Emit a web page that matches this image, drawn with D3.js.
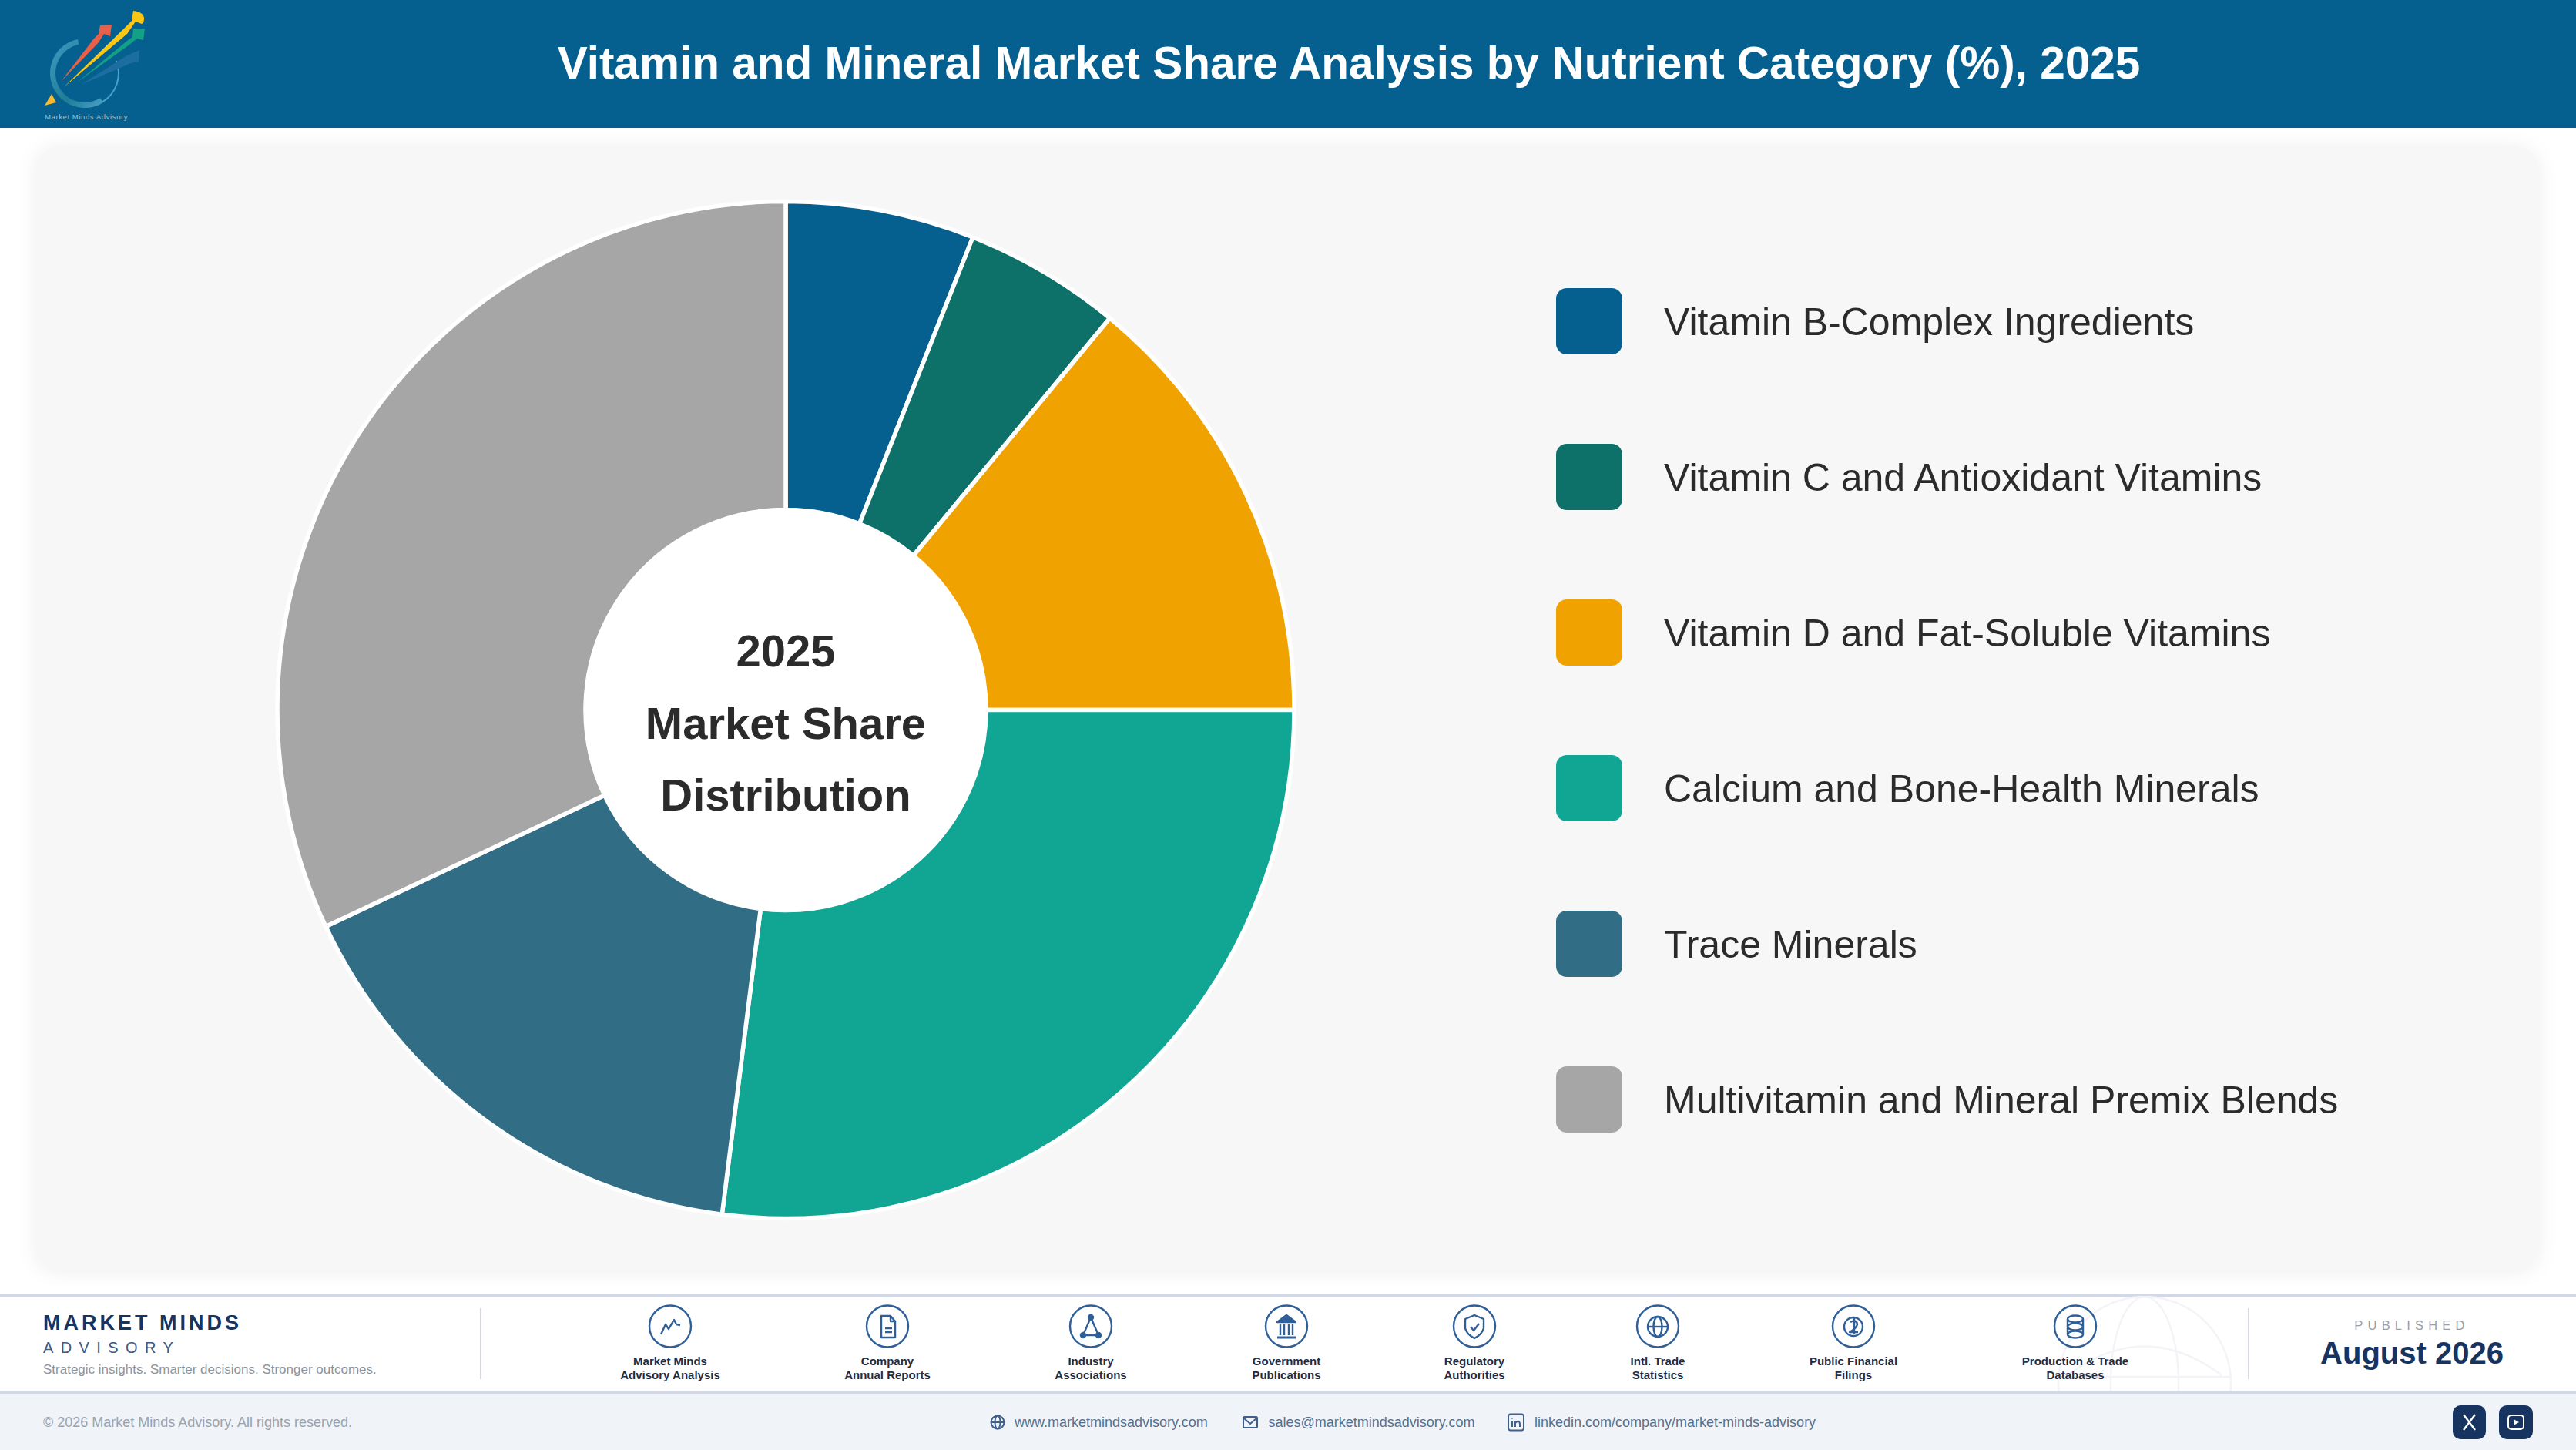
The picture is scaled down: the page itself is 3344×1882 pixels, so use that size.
<!DOCTYPE html>
<html>
<head>
<meta charset="utf-8">
<script src="https://cdn.jsdelivr.net/npm/d3@7"></script>
<style>
html, body {margin: 0; padding: 0; background: #fff;}
svg {display: block;}
text {font-family: "Liberation Sans", Arial, sans-serif;}
</style>
</head>
<body>
<div id="chart"></div>
<script>
var categories = [
    'Vitamin B-Complex Ingredients',
    'Vitamin C and Antioxidant Vitamins',
    'Vitamin D and Fat-Soluble Vitamins',
    'Calcium and Bone-Health Minerals',
    'Trace Minerals',
    'Multivitamin and Mineral Premix Blends'
];
var shares = [6, 5, 14, 27, 16, 32];
var slice_colors = ['#05608f', '#0d7169', '#f0a300', '#11a594', '#316e85', '#a6a6a6'];

var title = 'Vitamin and Mineral Market Share Analysis by Nutrient Category (%), 2025';
var center_lines = ['2025', 'Market Share', 'Distribution'];

var source_labels = [
    ['Market Minds', 'Advisory Analysis'],
    ['Company', 'Annual Reports'],
    ['Industry', 'Associations'],
    ['Government', 'Publications'],
    ['Regulatory', 'Authorities'],
    ['Intl. Trade', 'Statistics'],
    ['Public Financial', 'Filings'],
    ['Production & Trade', 'Databases']
];
var source_x = [870, 1152, 1416, 1670, 1914, 2152, 2406, 2694];

var width = 3344, height = 1882;
var cx = 1020, cy = 921.5, outer = 660, inner = 260;
var navy = '#17335f', icon_blue = '#2f5f98';

var svg = d3.select('#chart').append('svg')
    .attr('width', width)
    .attr('height', height);

var defs = svg.append('defs');
var shadow = defs.append('filter').attr('id', 'card-shadow')
    .attr('x', '-5%').attr('y', '-5%').attr('width', '110%').attr('height', '110%');
shadow.append('feDropShadow')
    .attr('dx', 0).attr('dy', 2).attr('stdDeviation', 13)
    .attr('flood-color', '#000').attr('flood-opacity', 0.07);

var ring_grad = defs.append('linearGradient').attr('id', 'ring-grad')
    .attr('x1', '0').attr('y1', '0').attr('x2', '1').attr('y2', '1');
ring_grad.append('stop').attr('offset', '0').attr('stop-color', '#3f9cc4');
ring_grad.append('stop').attr('offset', '0.6').attr('stop-color', '#1f7d96');
ring_grad.append('stop').attr('offset', '1').attr('stop-color', '#4aa0c8');

var clip = defs.append('clipPath').attr('id', 'band-clip');
clip.append('rect').attr('x', 0).attr('y', 1682).attr('width', width).attr('height', 124);

// Header
svg.append('rect').attr('width', width).attr('height', 166).attr('fill', '#05608f');
svg.append('text')
    .attr('x', 1751).attr('y', 102)
    .attr('text-anchor', 'middle')
    .attr('font-size', 58.5).attr('font-weight', 'bold')
    .attr('fill', '#fff')
    .text(title);

// Logo
var logo = svg.append('g');
logo.append('path')
    .attr('d', d3.arc()({innerRadius: 38, outerRadius: 45, startAngle: -0.2, endAngle: -3.7}))
    .attr('transform', 'translate(110,95)')
    .attr('fill', 'url(#ring-grad)');
logo.append('path')
    .attr('d', d3.arc()({innerRadius: 43, outerRadius: 45, startAngle: 1.2, endAngle: 2.6}))
    .attr('transform', 'translate(110,95)')
    .attr('fill', '#4aa0c8');
logo.append('path').attr('fill', '#1d6ea0')
    .attr('d', 'M105 110 L165 72 L181 65 L180 80 L170 82 Z');
logo.append('path').attr('fill', '#e8604a')
    .attr('d', 'M79 106 L122 50 L128 44 L130 33 L145 32 L143 47 L135 44 L128 55 Z');
logo.append('path').attr('fill', '#12a184')
    .attr('d', 'M100 107 L165 53 L172 48 L173 37 L188 37 L186 52 L178 50 L168 58 Z');
logo.append('path').attr('fill', '#fbc714')
    .attr('d', 'M83 113 L160 38 L171 27 L173 14 Q187 16 187 24 Q187 30 184 31 L176 28 L165 44 Z');
logo.append('path').attr('fill', '#fbb72c')
    .attr('d', 'M58 137 L67 122 L73 133 Z');
logo.append('text')
    .attr('x', 58).attr('y', 155)
    .attr('font-size', 9.5).attr('letter-spacing', 0.6)
    .attr('fill', '#9cc3d4')
    .text('Market Minds Advisory');

// Card
svg.append('rect')
    .attr('x', 47).attr('y', 190)
    .attr('width', 3248).attr('height', 1458)
    .attr('rx', 28)
    .attr('fill', '#f7f7f7')
    .attr('filter', 'url(#card-shadow)');

// Donut
var pie = d3.pie().sort(null).value(function(d) {return d;});
var arc = d3.arc().innerRadius(inner).outerRadius(outer);

var donut = svg.append('g').attr('transform', 'translate(' + cx + ',' + cy + ')');
donut.append('circle').attr('r', inner).attr('fill', '#fff');
donut.selectAll('path')
    .data(pie(shares))
    .enter()
    .append('path')
        .attr('d', arc)
        .attr('fill', function(d, i) {return slice_colors[i];})
        .attr('stroke', '#fff')
        .attr('stroke-width', 5.5);

svg.selectAll('.center-label')
    .data(center_lines)
    .enter()
    .append('text')
        .attr('class', 'center-label')
        .attr('x', cx)
        .attr('y', function(d, i) {return 865 + i * 93.5;})
        .attr('text-anchor', 'middle')
        .attr('font-size', 58).attr('font-weight', 'bold')
        .attr('fill', '#2b2b2b')
        .text(function(d) {return d;});

// Legend
var legend_y = d3.scalePoint()
    .domain(categories)
    .range([417, 1427]);

var legend = svg.selectAll('.legend-row')
    .data(categories)
    .enter()
    .append('g')
        .attr('class', 'legend-row')
        .attr('transform', function(d) {return 'translate(0,' + legend_y(d) + ')';});
legend.append('rect')
    .attr('x', 2020).attr('y', -43)
    .attr('width', 86).attr('height', 86)
    .attr('rx', 14)
    .attr('fill', function(d, i) {return slice_colors[i];});
legend.append('text')
    .attr('x', 2160).attr('y', 18)
    .attr('font-size', 50)
    .attr('fill', '#2b2b2b')
    .text(function(d) {return d;});

// Footer band
svg.append('rect').attr('x', 0).attr('y', 1680).attr('width', width).attr('height', 3).attr('fill', '#d3d8e6');
svg.append('rect').attr('x', 0).attr('y', 1808).attr('width', width).attr('height', 74).attr('fill', '#f0f4f9');
svg.append('rect').attr('x', 0).attr('y', 1806).attr('width', width).attr('height', 3).attr('fill', '#d3d8e6');

// Faint globe behind the band
var globe = svg.append('g')
    .attr('clip-path', 'url(#band-clip)')
    .append('g')
    .attr('transform', 'translate(2784,1795)')
    .attr('fill', 'none')
    .attr('stroke', '#f3f4f7')
    .attr('stroke-width', 2.5);
globe.append('circle').attr('r', 112);
globe.append('ellipse').attr('rx', 44).attr('ry', 112);
globe.append('line').attr('x1', -112).attr('x2', 112).attr('y1', -8).attr('y2', -8);
globe.append('path').attr('d', 'M-100 -10 Q0 -85 100 -10');

svg.append('rect').attr('x', 623).attr('y', 1698).attr('width', 2).attr('height', 92).attr('fill', '#d5d9df');
svg.append('rect').attr('x', 2918).attr('y', 1698).attr('width', 2).attr('height', 92).attr('fill', '#d5d9df');

svg.append('text').attr('x', 56).attr('y', 1726)
    .attr('font-size', 27).attr('font-weight', 'bold').attr('letter-spacing', 4)
    .attr('fill', navy).text('MARKET MINDS');
svg.append('text').attr('x', 56).attr('y', 1756)
    .attr('font-size', 20).attr('letter-spacing', 9.4)
    .attr('fill', '#3b5a86').text('ADVISORY');
svg.append('text').attr('x', 56).attr('y', 1783)
    .attr('font-size', 17).attr('fill', '#8d939c')
    .text('Strategic insights. Smarter decisions. Stronger outcomes.');

// Source icons, all drawn around 0,0 inside the 28px circle
var icon_draw = [
    function(g) {
        g.append('path').attr('d', 'M-12 10 L-6 -3 L-2 3 L5 -9 L8 -3 L13 -2');
    },
    function(g) {
        g.append('path').attr('d', 'M-8 -14 H4 L10 -7 V14 H-8 Z M4 -14 V-7 H10');
        g.append('path').attr('d', 'M-3 2 H6 M-3 7 H6');
    },
    function(g) {
        g.append('path').attr('d', 'M0 -12 L-10 11 H10 Z');
        g.append('circle').attr('cy', -12).attr('r', 3).attr('fill', icon_blue);
        g.append('circle').attr('cx', -10).attr('cy', 11).attr('r', 3).attr('fill', icon_blue);
        g.append('circle').attr('cx', 10).attr('cy', 11).attr('r', 3).attr('fill', icon_blue);
    },
    function(g) {
        g.append('path').attr('d', 'M0 -15 L12 -6 H-12 Z').attr('fill', icon_blue);
        g.append('path').attr('d', 'M-8 -3 V11 M-3 -3 V11 M3 -3 V11 M8 -3 V11');
        g.append('path').attr('d', 'M-12 14 H12').attr('stroke-width', 3);
    },
    function(g) {
        g.append('path').attr('d', 'M0 -15 L12 -10 V2 Q10 10 0 15 Q-10 10 -12 2 V-10 Z');
        g.append('path').attr('d', 'M-5 0 L-1 5 L6 -4');
    },
    function(g) {
        g.append('circle').attr('r', 13);
        g.append('ellipse').attr('rx', 5.5).attr('ry', 13);
        g.append('path').attr('d', 'M-13 0 H13');
    },
    function(g) {
        g.append('circle').attr('r', 12);
        g.append('path').attr('d', 'M-4 -6 Q4 -10 5 -3 Q4 2 -5 7 H6 M1 -11 V9');
    },
    function(g) {
        g.append('ellipse').attr('cy', -10).attr('rx', 10).attr('ry', 4.5);
        g.append('ellipse').attr('cy', 0).attr('rx', 10).attr('ry', 4.5);
        g.append('ellipse').attr('cy', 10).attr('rx', 10).attr('ry', 4.5);
        g.append('path').attr('d', 'M-10 -10 V10 M10 -10 V10');
    }
];

var sources = svg.selectAll('.source')
    .data(source_labels)
    .enter()
    .append('g')
        .attr('class', 'source')
        .attr('transform', function(d, i) {return 'translate(' + source_x[i] + ',0)';});

sources.append('circle')
    .attr('cy', 1721.5).attr('r', 27)
    .attr('fill', 'none').attr('stroke', icon_blue).attr('stroke-width', 2.4);

sources.each(function(d, i) {
    var g = d3.select(this).append('g')
        .attr('transform', 'translate(0,1722)')
        .attr('fill', 'none')
        .attr('stroke', icon_blue)
        .attr('stroke-width', 2.4)
        .attr('stroke-linejoin', 'round');
    icon_draw[i](g);
});

sources.selectAll('.source-line')
    .data(function(d) {return d;})
    .enter()
    .append('text')
        .attr('class', 'source-line')
        .attr('y', function(d, i) {return 1772 + i * 18;})
        .attr('text-anchor', 'middle')
        .attr('font-size', 15).attr('font-weight', 'bold')
        .attr('fill', '#232c42')
        .text(function(d) {return d;});

svg.append('text').attr('x', 3131).attr('y', 1726)
    .attr('text-anchor', 'middle')
    .attr('font-size', 16.5).attr('letter-spacing', 6.2)
    .attr('fill', '#9a9ea6').text('PUBLISHED');
svg.append('text').attr('x', 3131).attr('y', 1770)
    .attr('text-anchor', 'middle')
    .attr('font-size', 40).attr('font-weight', 'bold')
    .attr('fill', navy).text('August 2026');

// Bottom strip
var contact_color = '#55708f';
svg.append('text').attr('x', 56).attr('y', 1852)
    .attr('font-size', 18).attr('fill', '#9aa3ad')
    .text('\u00A9 2026 Market Minds Advisory. All rights reserved.');

[['www.marketmindsadvisory.com', 1317], ['sales@marketmindsadvisory.com', 1646.5], ['linkedin.com/company/market-minds-advisory', 1992]].forEach(function(c) {
    svg.append('text').attr('x', c[1]).attr('y', 1852)
        .attr('font-size', 18).attr('fill', contact_color).text(c[0]);
});

var contact_icons = svg.append('g')
    .attr('fill', 'none').attr('stroke', '#3f5f8c').attr('stroke-width', 2);
var web = contact_icons.append('g').attr('transform', 'translate(1295,1846)');
web.append('circle').attr('r', 8.5);
web.append('ellipse').attr('rx', 3.5).attr('ry', 8.5);
web.append('path').attr('d', 'M-8.5 0 H8.5');
var mail = contact_icons.append('g').attr('transform', 'translate(1623,1846)');
mail.append('rect').attr('x', -9).attr('y', -7).attr('width', 18).attr('height', 14).attr('rx', 1.5);
mail.append('path').attr('d', 'M-8 -5 L0 2 L8 -5');
var linked = contact_icons.append('g').attr('transform', 'translate(1968,1846)');
linked.append('rect').attr('x', -10).attr('y', -10.5).attr('width', 20).attr('height', 21).attr('rx', 3);
linked.append('path').attr('d', 'M-5 -2 V6 M-1 6 V-2 M-1 1 Q4 -4 5 2 V6');
linked.append('path').attr('d', 'M-5 -6 V-4.5');

svg.append('rect').attr('x', 3184).attr('y', 1824).attr('width', 43).attr('height', 44).attr('rx', 10).attr('fill', navy);
svg.append('rect').attr('x', 3244).attr('y', 1824).attr('width', 44).attr('height', 44).attr('rx', 10).attr('fill', navy);
svg.append('path').attr('d', 'M3198 1836 L3213 1856 M3213 1836 L3198 1856')
    .attr('stroke', '#fff').attr('stroke-width', 2.4).attr('fill', 'none');
svg.append('rect').attr('x', 3256).attr('y', 1837).attr('width', 20).attr('height', 18).attr('rx', 4)
    .attr('fill', 'none').attr('stroke', '#fff').attr('stroke-width', 2);
svg.append('path').attr('d', 'M3263 1842 L3270 1846 L3263 1850 Z').attr('fill', '#fff');
</script>
</body>
</html>
